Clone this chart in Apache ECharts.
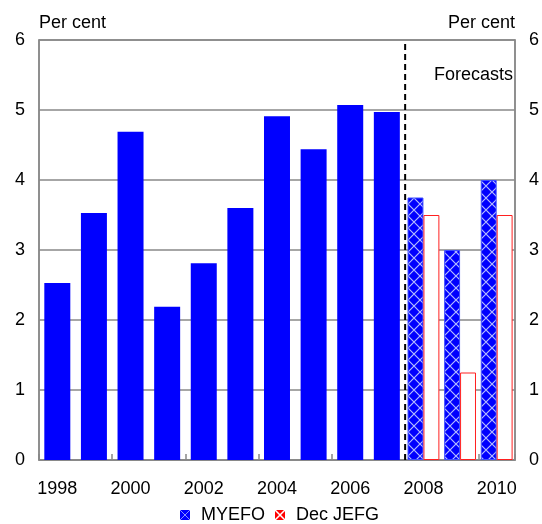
<!DOCTYPE html>
<html>
<head>
<meta charset="utf-8">
<script src="https://cdn.jsdelivr.net/npm/echarts@6/dist/echarts.min.js"></script>
<style>
  html, body { margin: 0; padding: 0; background: #fff; }
  #chart { width: 542px; height: 524px; }
</style>
</head>
<body>
<div id="chart"></div>
<script>
// Calendar years on the category axis
const years = ['1998', '1999', '2000', '2001', '2002', '2003', '2004',
               '2005', '2006', '2007', '2008', '2009', '2010'];
// Outcomes (per cent)
const actual = [2.53, 3.53, 4.69, 2.19, 2.81, 3.6, 4.91, 4.44, 5.07, 4.97, null, null, null];
// Forecast rounds (per cent)
const myefo = [null, null, null, null, null, null, null, null, null, null, 3.75, 3.0, 4.0];
const decJefg = [null, null, null, null, null, null, null, null, null, null, 3.5, 1.25, 3.5];
// Value axis ticks
const yTicks = [0, 1, 2, 3, 4, 5, 6];
// Position of the forecast divider, in category units
const forecastStart = 9.5;

const FONT = 'Liberation Sans, Arial, sans-serif';

// Cross-hatch fill: coloured ground with diagonal crosses
function hatch(ground, ink, size, width) {
  const c = document.createElement('canvas');
  c.width = size; c.height = size;
  const g = c.getContext('2d');
  g.fillStyle = ground;
  g.fillRect(0, 0, size, size);
  g.strokeStyle = ink;
  g.lineWidth = width;
  g.beginPath();
  g.moveTo(0, 0); g.lineTo(size, size);
  g.moveTo(size, 0); g.lineTo(0, size);
  g.stroke();
  return { image: c, repeat: 'repeat' };
}

const blueHatch = hatch('#0000ff', '#b4bcff', 12, 1.2);
const blueIcon = hatch('#0000ff', '#8890ff', 10, 1);
const redIcon = hatch('#ff0000', '#ffffff', 10, 1.5);

const chart = echarts.init(document.getElementById('chart'), null, { renderer: 'canvas' });

const yAxisBase = {
  type: 'value',
  min: yTicks[0],
  max: yTicks[yTicks.length - 1],
  interval: 1,
  name: 'Per cent',
  nameLocation: 'end',
  nameGap: 17,
  axisLine: { show: true, onZero: false, lineStyle: { color: '#888', width: 1.5 } },
  axisTick: { show: false },
  axisLabel: { color: '#000', fontSize: 18, fontFamily: FONT, margin: 14 }
};

chart.setOption({
  animation: false,
  backgroundColor: '#fff',
  textStyle: { fontFamily: FONT },
  grid: {
    left: 39, right: 26, top: 40, bottom: 64,
    show: true, borderColor: '#888', borderWidth: 1.5
  },
  legend: {
    top: 501,
    left: 175,
    icon: 'rect',
    itemWidth: 10,
    itemHeight: 10,
    itemGap: 10,
    textStyle: { color: '#000', fontSize: 18, fontFamily: FONT, padding: [0, 0, 0, 6] },
    data: [
      { name: 'MYEFO', itemStyle: { color: blueIcon, borderWidth: 0 } },
      { name: 'Dec JEFG', itemStyle: { color: redIcon, borderWidth: 0 } }
    ]
  },
  xAxis: [
    {
      type: 'category',
      data: years,
      axisLine: { show: true, lineStyle: { color: '#888', width: 1.5 } },
      axisTick: { show: true, inside: true, length: 6, interval: 1, lineStyle: { color: '#888', width: 1.5 } },
      axisLabel: { color: '#000', fontSize: 18, fontFamily: FONT, interval: 1, margin: 20 },
      splitLine: { show: false }
    },
    {
      type: 'category',
      data: years,
      show: false
    },
    {
      type: 'value',
      min: -0.5,
      max: years.length - 0.5,
      show: false
    }
  ],
  yAxis: [
    Object.assign({}, yAxisBase, {
      position: 'left',
      nameTextStyle: { color: '#000', fontSize: 18, fontFamily: FONT, align: 'left', verticalAlign: 'middle' },
      splitLine: { show: true, lineStyle: { color: '#888', width: 1.5 } }
    }),
    Object.assign({}, yAxisBase, {
      position: 'right',
      nameTextStyle: { color: '#000', fontSize: 18, fontFamily: FONT, align: 'right', verticalAlign: 'middle' },
      splitLine: { show: false }
    })
  ],
  series: [
    {
      name: 'Outcome',
      type: 'bar',
      xAxisIndex: 0,
      yAxisIndex: 0,
      data: actual,
      barCategoryGap: '29%',
      itemStyle: { color: '#0000ff' },
      z: 3
    },
    {
      name: 'MYEFO',
      type: 'bar',
      xAxisIndex: 1,
      yAxisIndex: 0,
      data: myefo,
      barGap: '0%',
      barCategoryGap: '13%',
      itemStyle: { color: blueHatch, borderColor: '#4050ff', borderWidth: 1 },
      z: 3
    },
    {
      name: 'Dec JEFG',
      type: 'bar',
      xAxisIndex: 1,
      yAxisIndex: 0,
      data: decJefg,
      barGap: '0%',
      barCategoryGap: '13%',
      itemStyle: { color: '#ffffff', borderColor: '#ff2020', borderWidth: 1 },
      z: 3
    },
    {
      name: 'Forecast divider',
      type: 'line',
      xAxisIndex: 2,
      yAxisIndex: 0,
      data: [[forecastStart, yTicks[0]], [forecastStart, yTicks[yTicks.length - 1]]],
      symbol: 'none',
      lineStyle: { color: '#000', width: 2, type: [6, 4] },
      silent: true,
      z: 4
    }
  ],
  graphic: [
    {
      type: 'text',
      right: 29,
      top: 66,
      style: { text: 'Forecasts', fill: '#000', font: '18px ' + FONT, textAlign: 'right' }
    }
  ]
});
</script>
</body>
</html>
